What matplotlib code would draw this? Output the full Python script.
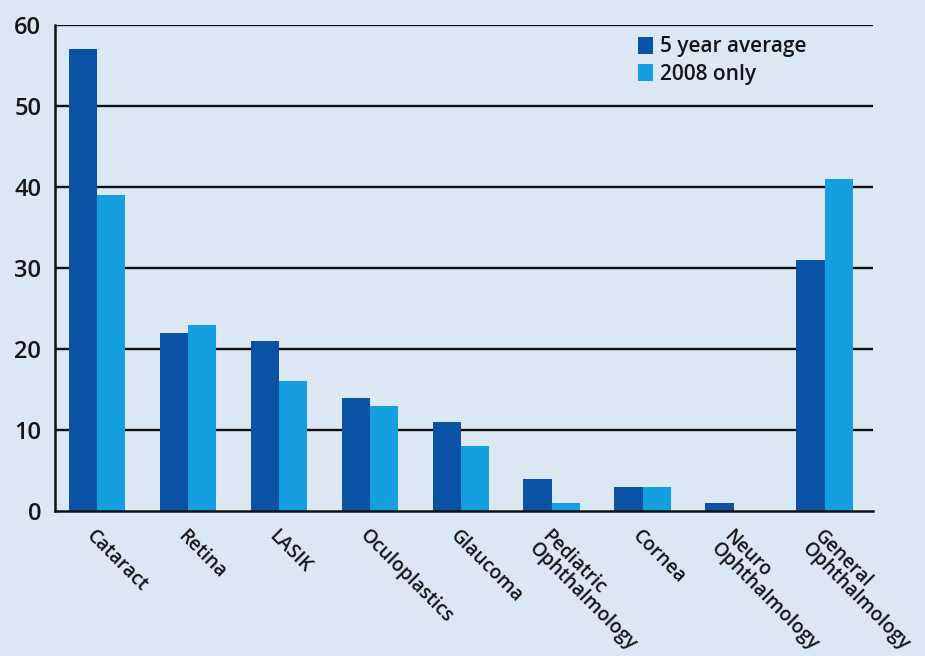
import numpy as np
import matplotlib.pyplot as plt

categories = ["Cataract", "Retina", "LASIK", "Oculoplastics", "Glaucoma",
              "Pediatric\nOphthalmology", "Cornea", "Neuro\nOphthalmology",
              "General\nOphthalmology"]
five_year_avg = [57, 22, 21, 14, 11, 4, 3, 1, 31]
only_2008 = [39, 23, 16, 13, 8, 1, 3, 0, 41]
y_ticks = [0, 10, 20, 30, 40, 50, 60]

BG = "#dce7f4"
DARK = "#0b52a5"
LIGHT = "#14a0e0"
FONT = ["Open Sans", "DejaVu Sans"]

plt.rcParams["font.family"] = FONT
plt.rcParams["font.weight"] = "semibold"

fig = plt.figure(figsize=(9.25, 6.56), dpi=100, facecolor=BG)
ax = fig.add_axes([0.0595, 0.221, 0.884, 0.741])
ax.set_facecolor(BG)

x = np.arange(len(categories))
w = 0.31
ax.bar(x - w / 2, five_year_avg, width=w, color=DARK, label="5 year average", zorder=3)
ax.bar(x + w / 2, only_2008, width=w, color=LIGHT, label="2008 only", zorder=3)

ax.set_xlim(-0.46, 8.53)
ax.set_ylim(0, 60)
ax.set_yticks(y_ticks)
ax.set_yticklabels([str(t) for t in y_ticks], fontsize=17, color="#151515")
for t in y_ticks[1:]:
    ax.axhline(t, color="#111111", lw=1.7, zorder=1)

ax.set_xticks(x)
ax.set_xticklabels(categories, rotation=-45, ha="left", va="top",
                   rotation_mode="anchor", fontsize=13.8, color="#151515",
                   linespacing=0.85)
ax.tick_params(axis="both", length=0)
ax.tick_params(axis="y", pad=10)
ax.tick_params(axis="x", pad=11)

for side in ["top", "right"]:
    ax.spines[side].set_visible(False)
for side in ["left", "bottom"]:
    ax.spines[side].set_color("#111111")
    ax.spines[side].set_linewidth(1.8)
    ax.spines[side].set_zorder(4)

leg = ax.legend(loc="upper left", bbox_to_anchor=(0.69, 1.015), frameon=False,
                fontsize=15, handlelength=0.7, handleheight=0.9,
                handletextpad=0.35, labelspacing=0.3)
for txt in leg.get_texts():
    txt.set_color("#151515")

fig.savefig("out.png", dpi=100, facecolor=BG)
